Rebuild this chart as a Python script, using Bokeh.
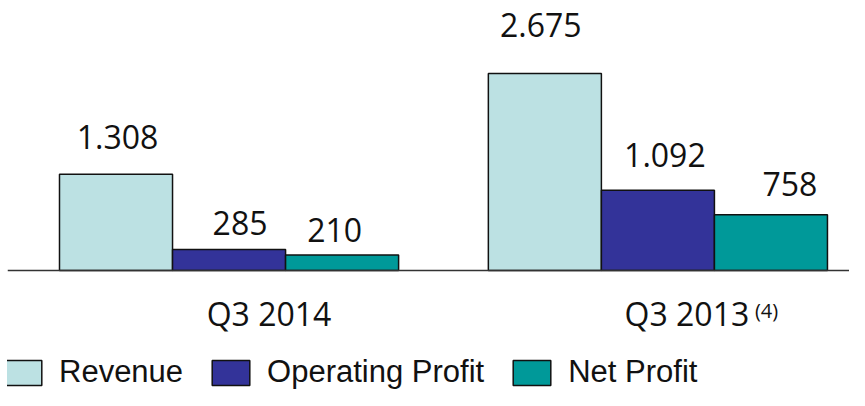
from bokeh.plotting import figure
from bokeh.models import Range1d, Span, ColumnDataSource
from bokeh.core.properties import value
from bokeh.embed import file_html
from bokeh.resources import INLINE

# ---- data ----
categories = ["Q3 2014", "Q3 2013"]
footnotes = ["", "(4)"]
series = ["Revenue", "Operating Profit", "Net Profit"]
revenue = [1308, 2675]
operating_profit = [285, 1092]
net_profit = [210, 758]

# ---- styles ----
colors = ["#BCE1E3", "#333399", "#009999"]
GROUP_GAP = 0.794  # gap between groups, in bar widths
# per-label pixel nudges (dx, dy above bar top) to mimic the original placement
label_dx = [[1.5, -4], [11, 7], [-7.5, 19]]
label_dy = [[37, 49], [27, 35], [25.5, 31]]
cat_dx = [40, 29]
foot_dx = [0, 97]

values = [revenue, operating_profit, net_profit]

def fmt(v):
    return f"{v:,}".replace(",", ".")

p = figure(width=849, height=390, output_backend="svg", toolbar_location=None,
           x_range=Range1d(-0.96, 6.489), y_range=Range1d(-1630, 3668),
           x_axis_location=None, y_axis_location=None,
           min_border=0, min_border_left=7)
p.outline_line_color = None
p.xgrid.visible = False
p.ygrid.visible = False
p.background_fill_color = "white"

n = len(series)
for j, (name, vals) in enumerate(zip(series, values)):
    xs = [i * (n + GROUP_GAP) + j for i in range(len(categories))]
    src = ColumnDataSource(dict(x=xs, top=vals, label=[fmt(v) for v in vals],
                                dx=label_dx[j], dy=[-d for d in label_dy[j]]))
    p.vbar(x="x", top="top", bottom=0, width=1.0, source=src,
           fill_color=colors[j], line_color="#111111", line_width=1.5,
           legend_label=name)
    p.text(x="x", y="top", text="label", source=src, x_offset="dx", y_offset="dy",
           text_align="center", text_baseline="middle",
           text_font=value("Open Sans"), text_font_size="32px", text_color="#111111")

# baseline
p.add_layout(Span(location=0, dimension="width", line_color="#333333", line_width=1.5))

# category labels
cx = [i * (n + GROUP_GAP) + (n - 1) / 2 for i in range(len(categories))]
csrc = ColumnDataSource(dict(x=cx, y=[0] * len(categories), text=categories,
                             dx=cat_dx, foot=footnotes, fdx=foot_dx))
p.text(x="x", y="y", text="text", source=csrc, x_offset="dx", y_offset=43,
       text_align="center", text_baseline="middle",
       text_font=value("Open Sans"), text_font_size="32px", text_color="#111111")
p.text(x="x", y="y", text="foot", source=csrc, x_offset="fdx", y_offset=40,
       text_align="left", text_baseline="middle",
       text_font=value("Open Sans"), text_font_size="20px", text_color="#111111")

leg = p.legend[0]
leg.orientation = "horizontal"
leg.location = (-8, 0)
leg.padding = 0
leg.margin = 0
leg.spacing = 24
leg.label_standoff = 13
leg.glyph_width = 47
leg.glyph_height = 31
leg.label_height = 31
leg.border_line_alpha = 0
leg.background_fill_alpha = 0
leg.label_text_font = "Liberation Sans"
leg.label_text_font_size = "31px"
leg.label_text_color = "#111111"

open("out.html", "w").write(file_html(p, INLINE))
